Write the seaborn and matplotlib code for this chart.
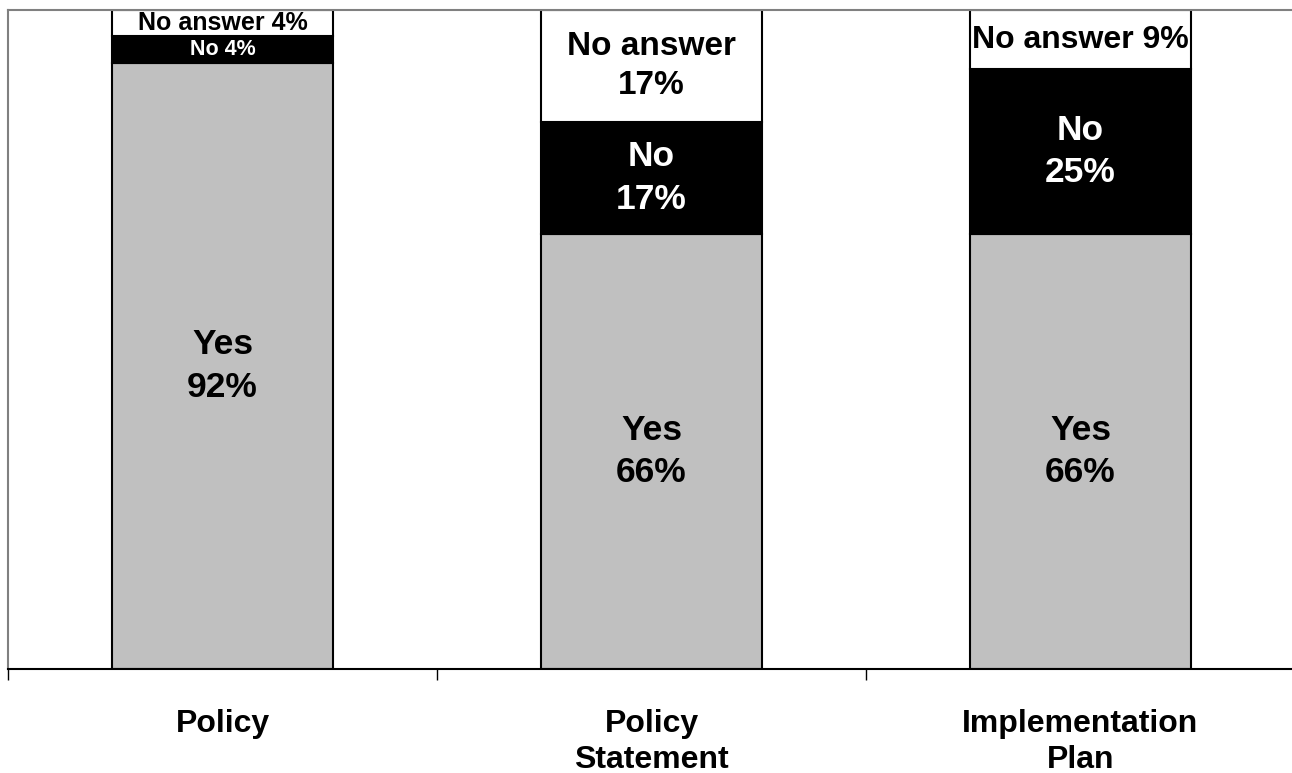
import matplotlib
matplotlib.use("Agg")
import matplotlib.pyplot as plt
import seaborn as sns
import numpy as np

categories = ["Policy", "Policy\nStatement", "Implementation\nPlan"]
yes_vals = [92, 66, 66]
no_vals = [4, 17, 25]
noans_vals = [4, 17, 9]
segment_names = ["Yes", "No", "No answer"]

sns.set_theme(style="white")
plt.rcParams["font.family"] = ["Liberation Sans", "DejaVu Sans"]
plt.rcParams["font.weight"] = "bold"

fig = plt.figure(figsize=(12.92, 7.73), dpi=100)
ax = fig.add_axes([8 / 1292, 104 / 773, 1287 / 1292, 659 / 773])

x = np.arange(len(categories))
colors = ["#C0C0C0", "#000000", "#FFFFFF"]
series = [yes_vals, no_vals, noans_vals]
bottom = np.zeros(len(categories))
for vals, col in zip(series, colors):
    sns.barplot(x=x, y=vals, bottom=bottom, color=col, saturation=1,
                edgecolor="black", linewidth=1.5, width=0.513, ax=ax,
                native_scale=True)
    bottom = bottom + np.array(vals)

# labels: (newline?, fontsize, text color)
styles = {
    0: [(True, 25.5, "black"), (False, 15.5, "white"), (False, 18, "black")],
    1: [(True, 25.5, "black"), (True, 25.5, "white"), (True, 24, "black")],
    2: [(True, 25.5, "black"), (True, 25.5, "white"), (False, 23, "black")],
}
for i in range(len(categories)):
    b = 0
    for s, (vals, name) in enumerate(zip(series, segment_names)):
        v = vals[i]
        nl, fs, tc = styles[i][s]
        txt = f"{name}\n{v}%" if nl else f"{name} {v}%"
        ax.text(x[i], b + v / 2, txt, ha="center", va="center", fontsize=fs,
                color=tc, fontweight="bold", linespacing=1.36)
        b += v

ax.set_xlim(-0.5, 2.5)
ax.set_ylim(0, 100)
ax.set_yticks([])
ax.set_xticks(x)
ax.set_xticklabels(categories, fontsize=23, fontweight="bold", va="top",
                   linespacing=1.27)
ax.tick_params(axis="x", which="major", length=0, pad=29, colors="black")
ax.set_xticks([-0.5, 0.5, 1.5, 2.5], minor=True)
ax.tick_params(axis="x", which="minor", length=8, width=1, color="black",
               direction="out", bottom=True)
ax.set_xlabel("")
ax.set_ylabel("")

ax.spines["right"].set_visible(False)
ax.spines["left"].set_color("#808080")
ax.spines["left"].set_linewidth(1.5)
ax.spines["top"].set_color("#808080")
ax.spines["top"].set_linewidth(1.5)
ax.spines["bottom"].set_color("black")
ax.spines["bottom"].set_linewidth(1.5)
ax.set_facecolor("white")
fig.patch.set_facecolor("white")

fig.savefig("out.png", dpi=100)
